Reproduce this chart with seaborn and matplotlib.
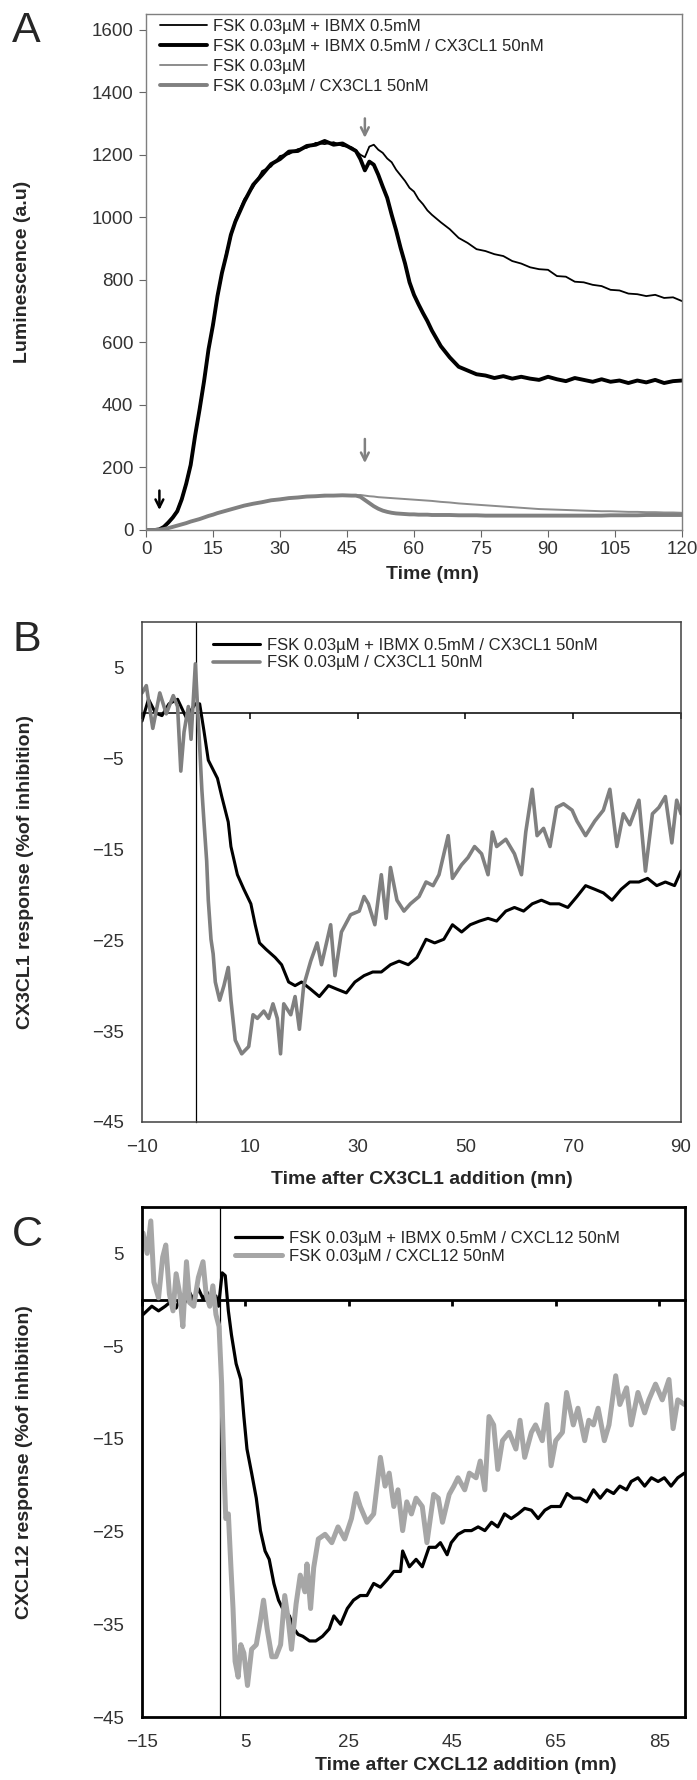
import matplotlib
matplotlib.use("Agg")
import matplotlib.pyplot as plt
import seaborn as sns

# ── Panel A: luminescence traces (time in mn) ─────────────────────────────
a_time = [0, 2, 3, 4, 5, 6, 7, 8, 9, 10, 11, 12, 13, 14, 15, 16, 17, 18, 19, 20,
          22, 24, 26, 28, 30, 32, 34, 36, 38, 40, 42, 44, 46,
          47, 48, 49, 50, 51, 52, 53, 54, 55, 56, 57, 58, 59, 60, 61, 62, 63, 64,
          66, 68, 70, 72, 74, 76, 78, 80, 82, 84, 86, 88, 90, 92, 94, 96, 98, 100,
          102, 104, 106, 108, 110, 112, 114, 116, 118, 120]
a_ibmx = [0, 0, 2, 8, 22, 42, 64, 102, 152, 214, 298, 392, 484, 572, 664, 742, 818, 890, 936, 992,
          1058, 1096, 1148, 1162, 1196, 1202, 1218, 1222, 1238, 1234, 1240, 1228, 1224,
          1214, 1200, 1192, 1226, 1232, 1216, 1206, 1188, 1176, 1152, 1134, 1116, 1094, 1082, 1058, 1042, 1022, 1008,
          984, 962, 934, 918, 898, 892, 882, 876, 860, 852, 840, 834, 832, 812, 810, 794, 792, 784,
          780, 768, 766, 756, 754, 748, 752, 742, 744, 732]
a_ibmx_cx = [0, 0, 2, 10, 24, 40, 60, 98, 148, 208, 302, 386, 476, 578, 656, 748, 822, 880, 944, 986,
             1050, 1104, 1136, 1170, 1186, 1210, 1212, 1228, 1232, 1244, 1232, 1236, 1220,
             1212, 1186, 1150, 1178, 1168, 1136, 1098, 1062, 1008, 958, 902, 852, 792, 752, 722, 694, 668, 638,
             588, 552, 522, 510, 498, 494, 486, 492, 484, 490, 484, 480, 490, 482, 476, 486, 480, 474,
             482, 474, 478, 470, 478, 472, 480, 470, 476, 478]
a_fsk = [0, 0, 1, 3, 6, 10, 14, 18, 23, 27, 31, 36, 40, 45, 50, 53, 58, 62, 66, 70,
         77, 84, 90, 95, 99, 102, 105, 107, 109, 108, 111, 110, 109,
         111, 112, 110, 108, 107, 105, 104, 103, 102, 101, 100, 99, 98, 97, 96, 95, 94, 93,
         90, 88, 85, 83, 81, 79, 77, 75, 73, 71, 69, 67, 66, 65, 64, 63, 62, 61,
         60, 60, 59, 58, 58, 57, 57, 56, 56, 55]
a_fsk_cx = [0, 0, 1, 3, 6, 10, 14, 18, 22, 27, 31, 35, 40, 45, 49, 54, 58, 62, 66, 70,
            78, 84, 89, 95, 98, 102, 104, 107, 108, 110, 110, 111, 110,
            110, 106, 96, 86, 76, 68, 62, 58, 55, 53, 52, 51, 50, 50, 49, 49, 49, 48,
            48, 48, 47, 47, 47, 46, 46, 46, 46, 46, 46, 46, 46, 46, 46, 46, 46, 46,
            46, 47, 47, 47, 47, 48, 48, 48, 48, 48]
a_labels = ["FSK 0.03µM + IBMX 0.5mM",
            "FSK 0.03µM + IBMX 0.5mM / CX3CL1 50nM",
            "FSK 0.03µM",
            "FSK 0.03µM / CX3CL1 50nM"]

# ── Panel B: CX3CL1 response (% of inhibition) ────────────────────────────
b_t_ibmx = [-10, -8.8, -7.5, -6.3, -5, -3.4, -1.8, -0.1, 0.7, 1.5, 2.3, 4, 4.8, 6, 6.5, 7.7, 8.9,
            10.2, 11, 11.8, 13, 14.7, 15.9, 17.2, 18.4, 19.6, 21.3, 22.9, 24.6, 26.2, 27.9, 29.5,
            31.2, 32.8, 34.4, 36.1, 37.7, 39.4, 41, 42.7, 44.3, 46, 47.6, 49.3, 50.9, 52.6, 54.2,
            55.8, 57.5, 59.1, 60.8, 62.4, 64.1, 65.7, 67.4, 69, 70.7, 72.3, 74, 75.6, 77.2, 78.9,
            80.5, 82.2, 83.8, 85.5, 87.1, 88.8, 90]
b_ibmx = [-0.9, 1.5, 0, -0.3, 1, 1.5, -0.5, 1, 1, -2, -5.2, -7.2, -9.2, -12, -14.7, -17.8, -19.4,
          -21, -23.3, -25.3, -26, -26.9, -27.7, -29.6, -30, -29.6, -30.4, -31.2, -30, -30.4, -30.8, -29.6,
          -28.9, -28.5, -28.5, -27.7, -27.3, -27.7, -26.9, -24.9, -25.3, -24.9, -23.3, -24.1, -23.3, -22.9, -22.6,
          -22.9, -21.8, -21.4, -21.8, -21, -20.6, -21, -21, -21.4, -20.2, -19, -19.4, -19.8, -20.6, -19.4,
          -18.6, -18.6, -18.2, -19, -18.6, -19, -17.4]
b_t_fsk = [-10, -9.2, -8, -6.7, -5.5, -4.2, -3.4, -2.8, -2.2, -1.4, -0.9, -0.1, 0.3, 0.7, 1.1, 1.5,
           2, 2.3, 2.8, 3.2, 3.6, 4.4, 5.2, 6, 6.5, 7.3, 8.5, 9.8, 10.6, 11.4, 12.6, 13.5, 14.3, 15.1,
           15.7, 16.3, 17.6, 18.4, 19.2, 20, 21.3, 22.5, 23.3, 25, 25.8, 27, 28.7, 30.3, 31.2, 32,
           33.2, 34.4, 35.3, 36.1, 37.3, 38.6, 39.8, 41.4, 42.7, 44, 45.1, 46.8, 47.6, 49.3, 50.5,
           51.7, 53, 54.2, 55, 55.8, 57.5, 59.1, 60.4, 61.2, 62.4, 63.3, 64.5, 65.7, 66.9, 68.2,
           69.8, 70.7, 72.3, 74, 75.6, 76.8, 78.1, 79.3, 80.5, 82.2, 83.4, 84.7, 85.9, 87.1, 88.3,
           89.2, 90]
b_fsk = [2.2, 3, -1.7, 2.2, -0.1, 1.9, 0.7, -6.4, -2.1, 0.7, -2.9, 5.4, 0.7, -3.7, -8.4, -12,
         -16.3, -20.6, -24.9, -26.5, -29.6, -31.6, -30, -28, -31.6, -36, -37.5, -36.7, -33.2, -33.6, -32.8, -33.6, -32, -33.6,
         -37.5, -32, -33.2, -31.2, -34.8, -30, -27.3, -25.3, -27.7, -23.3, -28.9, -24.1, -22.2, -21.8, -20.2, -21,
         -23.3, -17.8, -22.6, -17, -20.6, -21.8, -21, -20.2, -18.6, -19, -17.8, -13.5, -18.2, -16.7, -15.9,
         -14.7, -15.5, -17.8, -13.1, -14.7, -13.9, -15.5, -17.8, -13.1, -8.4, -13.5, -12.7, -14.7, -10.4, -10,
         -10.7, -11.9, -13.5, -11.9, -10.7, -8.4, -14.7, -11.1, -12.3, -9.6, -17.4, -11.1, -10.4, -9.2, -14.3,
         -9.6, -11.1]
b_labels = ["FSK 0.03µM + IBMX 0.5mM / CX3CL1 50nM", "FSK 0.03µM / CX3CL1 50nM"]

# ── Panel C: CXCL12 response (% of inhibition) ────────────────────────────
c_t_ibmx = [-14.8, -13.1, -11.8, -10.5, -9.2, -8.4, -7.5, -6.7, -5.8, -5, -4.1, -3.2, -2.4, -1.5, -0.7,
            -0.2, 0.5, 1.1, 1.7, 2.3, 3.2, 4.1, 4.7, 5.3, 6.2, 7.1, 7.9, 8.8, 9.6, 10.5, 11.4, 12.2,
            13.5, 14.4, 15.2, 16.1, 17.4, 18.6, 19.9, 21.2, 22.1, 23.4, 24.7, 25.9, 27.2, 28.5, 29.8,
            31.1, 32.4, 33.7, 35, 35.4, 36.7, 38, 39.2, 40.5, 41.8, 42.7, 44, 44.8, 46.1, 47.4, 48.7,
            50, 51.3, 52.6, 53.8, 55.1, 56.4, 57.7, 59, 60.3, 61.6, 62.9, 64.1, 65.9, 67.2, 68.4, 69.7,
            71, 72.3, 73.6, 74.9, 76.2, 77.4, 78.7, 79.6, 80.9, 82.2, 83.5, 84.8, 86, 87.3, 88.6, 89.9]
c_ibmx = [-1.6, -0.7, -1.2, -0.7, -0.1, -0.9, 0.4, -0.3, 0.8, -0.1, 1.2, 0.1, 0.8, -0.3, 0.4,
          -0.7, 2.9, 2.6, -1.2, -3.8, -6.9, -8.6, -12.6, -16.1, -18.7, -21.4, -24.9, -27.1, -28, -30.6, -32.4, -33.3,
          -34.1, -35.5, -36.1, -36.3, -36.8, -36.8, -36.3, -35.5, -34.1, -35, -33.3, -32.4, -31.9, -31.9, -30.6,
          -31, -30.2, -29.3, -29.3, -27.1, -28.8, -28, -28.8, -26.7, -26.7, -26.2, -27.5, -26.2, -25.3, -24.9, -24.9,
          -24.5, -24.9, -24, -24.5, -23.1, -23.6, -23.1, -22.5, -22.7, -23.6, -22.7, -22.3, -22.3, -20.9, -21.4, -21.4,
          -21.8, -20.5, -21.4, -20.5, -20.9, -20.1, -20.5, -19.6, -19.2, -20.1, -19.2, -19.6, -19.2, -20.1, -19.2, -18.7]
c_t_fsk = [-14.8, -14, -13.3, -12.7, -11.8, -11, -10.4, -9.7, -9, -8.4, -7.7, -7.1, -6.4, -5.8, -5,
           -4.1, -3.2, -2.6, -1.9, -1.3, -0.7, -0.1, 0.4, 0.8, 1.2, 1.7, 2.2, 2.6, 3, 3.6, 4.1, 4.7,
           5.4, 6.2, 7.1, 7.9, 8.5, 9.2, 10.1, 10.9, 11.8, 12.6, 13.3, 13.9, 14.8, 15.6, 16.5, 16.9,
           17.6, 18.2, 19.1, 20.4, 21.7, 22.9, 24.2, 25.5, 26.4, 27.2, 28.5, 29.8, 31.1, 32, 32.8,
           33.7, 34.5, 35.4, 36.2, 37.1, 38, 39.2, 40.1, 41.4, 42.3, 43.1, 44.4, 45.3, 46.1, 47.4,
           48.3, 49.6, 50.4, 51.3, 52.1, 53, 53.8, 54.7, 56, 57.3, 58.1, 59, 60.3, 61.1, 62.4, 63.3,
           64.1, 65, 66.3, 67.1, 68.4, 69.3, 70.6, 71.4, 72.3, 73.2, 74.4, 75.3, 76.6, 77.4, 78.7,
           79.6, 80.9, 82.2, 83, 84.3, 85.6, 86.9, 87.7, 88.6, 89.9]
c_fsk = [7.2, 5, 8.5, 1.9, 0.2, 4.6, 5.9, 0.6, -1.2, 2.8, 0.6, -2.9, 4.1, -0.3, -0.7,
         2.4, 4.1, 0.6, -0.7, 1.5, -1.6, -2.9, -9.1, -17.4, -23.6, -23.1, -28.9, -33.3, -39, -40.7, -37.2, -38.1,
         -41.6, -37.7, -37.2, -34.6, -32.4, -35.5, -38.5, -38.5, -37.2, -31.9, -34.6, -37.7, -32.8, -29.7, -31.5, -28.5,
         -33.3, -28.9, -25.8, -25.3, -26.2, -24.5, -25.8, -23.6, -20.9, -22.3, -24, -23.1, -17, -20.1, -18.7,
         -22.3, -20.5, -24.9, -21.8, -23.1, -21.4, -22.3, -26.2, -21, -21.4, -24, -21, -20.1, -19.2, -20.5,
         -18.7, -19.2, -17.4, -20.5, -12.6, -13.5, -18.3, -15.2, -14.3, -16.1, -13, -17, -14.3, -13.5, -15.2, -11.3,
         -17.9, -15.2, -14.3, -10, -13.5, -11.7, -15.2, -13, -13.5, -11.7, -15.2, -13.5, -8.2, -11.3, -9.5,
         -13.5, -10, -12.2, -10.8, -9.1, -10.8, -8.6, -13.9, -10.8, -11.3]
c_labels = ["FSK 0.03µM + IBMX 0.5mM / CXCL12 50nM", "FSK 0.03µM / CXCL12 50nM"]

# ── Style ──────────────────────────────────────────────────────────────────
sns.set_style("white")
plt.rcParams["font.family"] = ["Liberation Sans", "DejaVu Sans"]
TICK_C = "#333333"
TICK_FS = 13.5
W, H = 697, 1780


def rect(left, top, right, bottom):
    return [left / W, 1 - bottom / H, (right - left) / W, (bottom - top) / H]


fig = plt.figure(figsize=(W / 100, H / 100), dpi=100)

# ── Panel A ────────────────────────────────────────────────────────────────
axA = fig.add_axes(rect(146, 14, 682, 530))
sns.lineplot(x=a_time, y=a_ibmx, ax=axA, color="black", linewidth=1.3, label=a_labels[0])
sns.lineplot(x=a_time, y=a_ibmx_cx, ax=axA, color="black", linewidth=2.8, label=a_labels[1])
sns.lineplot(x=a_time, y=a_fsk, ax=axA, color="#8c8c8c", linewidth=1.4, label=a_labels[2])
sns.lineplot(x=a_time, y=a_fsk_cx, ax=axA, color="#808080", linewidth=2.8, label=a_labels[3])
axA.set_xlim(0, 120)
axA.set_ylim(0, 1650)
axA.set_xticks(range(0, 121, 15))
axA.set_yticks(range(0, 1601, 200))
axA.tick_params(axis="both", direction="out", length=5, width=0.8, color="#666666",
                labelsize=TICK_FS, labelcolor=TICK_C, left=True, bottom=True)
axA.tick_params(axis="y", pad=4)
axA.tick_params(axis="x", pad=3)
for s in axA.spines.values():
    s.set_color("#7f7f7f")
    s.set_linewidth(1.0)
axA.set_xlabel("Time (mn)", fontsize=14, fontweight="bold", labelpad=2)
axA.xaxis.set_label_coords(0.535, -0.07)
axA.set_ylabel("Luminescence (a.u)", fontsize=14, fontweight="bold")
axA.yaxis.set_label_coords(-0.215, 0.5)
axA.legend(loc="upper left", bbox_to_anchor=(0.026, 0.99), frameon=False, fontsize=12,
           handlelength=2.8, handletextpad=0.4, labelspacing=0.3, borderpad=0, borderaxespad=0)
# arrows: forskolin addition (black) and chemokine addition (gray)
arrow_kw = dict(arrowstyle="->", lw=1.8, mutation_scale=14)
axA.annotate("", xy=(3, 55), xytext=(3, 135), arrowprops=dict(color="black", **arrow_kw))
axA.annotate("", xy=(49, 1245), xytext=(49, 1325), arrowprops=dict(color="#808080", **arrow_kw))
axA.annotate("", xy=(49, 205), xytext=(49, 300), arrowprops=dict(color="#808080", **arrow_kw))


def response_panel(box, xlim, xticks, frame_w, frame_c, zero_w):
    # bottom layer: zero lines (x axis crossing at 0 with its ticks, vertical at t=0)
    ax0 = fig.add_axes(box)
    ax0.set_xlim(*xlim)
    ax0.set_ylim(-45, 10)
    for side in ("top", "right"):
        ax0.spines[side].set_visible(False)
    ax0.spines["bottom"].set_position(("data", 0))
    ax0.spines["left"].set_position(("data", 0))
    ax0.spines["bottom"].set_linewidth(zero_w)
    ax0.spines["bottom"].set_color("black")
    ax0.spines["left"].set_linewidth(0.9)
    ax0.spines["left"].set_color("black")
    # top layer: data, frame and labels at the frame edges
    ax = fig.add_axes(box, sharex=ax0, sharey=ax0)
    ax.patch.set_visible(False)
    ax.set_xticks(xticks)
    ax.set_yticks(range(-45, 6, 10))
    ax0.tick_params(axis="x", direction="out", length=4, width=zero_w, color="black",
                    labelbottom=False, bottom=True)
    ax0.tick_params(axis="y", left=False, labelleft=False, length=0)
    for s in ax.spines.values():
        s.set_linewidth(frame_w)
        s.set_color(frame_c)
    ax.tick_params(axis="both", length=0, labelsize=TICK_FS, labelcolor=TICK_C)
    ax.tick_params(axis="y", pad=13)
    ax.tick_params(axis="x", pad=12)
    return ax


# ── Panel B ────────────────────────────────────────────────────────────────
axB = response_panel(rect(142, 622, 681, 1122), (-10, 90), range(-10, 91, 20), 1.1, "#404040", 1.1)
sns.lineplot(x=b_t_ibmx, y=b_ibmx, ax=axB, color="black", linewidth=2.2, label=b_labels[0])
sns.lineplot(x=b_t_fsk, y=b_fsk, ax=axB, color="#808080", linewidth=2.6, label=b_labels[1])
axB.set_xlabel("Time after CX3CL1 addition (mn)", fontsize=14, fontweight="bold")
axB.xaxis.set_label_coords(0.52, -0.098)
axB.set_ylabel("CX3CL1 response (%of inhibition)", fontsize=14, fontweight="bold")
axB.yaxis.set_label_coords(-0.2, 0.5)
axB.legend(loc="upper left", bbox_to_anchor=(0.132, 0.968), frameon=False, fontsize=12,
           handlelength=2.8, handletextpad=0.45, labelspacing=0.15, borderpad=0, borderaxespad=0)

# ── Panel C ────────────────────────────────────────────────────────────────
axC = response_panel(rect(142, 1207, 685, 1717), (-15, 90), range(-15, 86, 20), 2.0, "black", 2.0)
sns.lineplot(x=c_t_ibmx, y=c_ibmx, ax=axC, color="black", linewidth=2.3, label=c_labels[0])
sns.lineplot(x=c_t_fsk, y=c_fsk, ax=axC, color="#a6a6a6", linewidth=3.6, label=c_labels[1])
axC.set_xlabel("Time after CXCL12 addition (mn)", fontsize=14, fontweight="bold")
axC.xaxis.set_label_coords(0.597, -0.078)
axC.set_ylabel("CXCL12 response (%of inhibition)", fontsize=14, fontweight="bold")
axC.yaxis.set_label_coords(-0.2, 0.5)
axC.legend(loc="upper left", bbox_to_anchor=(0.171, 0.953), frameon=False, fontsize=12,
           handlelength=2.8, handletextpad=0.45, labelspacing=0.2, borderpad=0, borderaxespad=0)

# ── Panel letters ──────────────────────────────────────────────────────────
for letter, yc in (("A", 31), ("B", 640), ("C", 1235)):
    fig.text(12 / W, 1 - yc / H, letter, fontsize=31, va="center", ha="left")

fig.savefig("out.png", dpi=100)
